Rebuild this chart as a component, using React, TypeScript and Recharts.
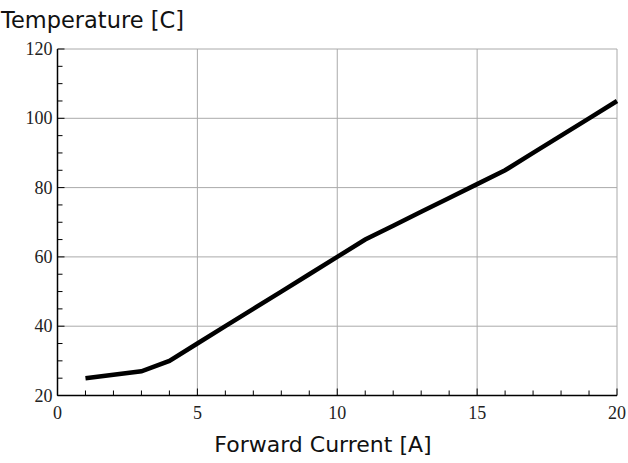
import React from 'react';
import { LineChart, Line, XAxis, YAxis, ReferenceLine } from 'recharts';

// forward current [A] vs temperature [C]
const current = [1, 2, 3, 4, 5, 6, 7, 8, 9, 10, 11, 12, 13, 14, 15, 16, 17, 18, 19, 20];
const temperature = [25, 26, 27, 30, 35, 40, 45, 50, 55, 60, 65, 69, 73, 77, 81, 85, 90, 95, 100, 105];

const xTicks = [0, 1, 2, 3, 4, 5, 6, 7, 8, 9, 10, 11, 12, 13, 14, 15, 16, 17, 18, 19, 20];
const xLabels = [0, 5, 10, 15, 20];
const yTicks = [20, 25, 30, 35, 40, 45, 50, 55, 60, 65, 70, 75, 80, 85, 90, 95, 100, 105, 110, 115, 120];
const yLabels = [20, 40, 60, 80, 100, 120];
const xGrid = [5, 10, 15, 20];
const yGrid = [40, 60, 80, 100, 120];

const data = current.map((c, i) => ({ current: c, temperature: temperature[i] }));

const serif = '"Liberation Serif", "DejaVu Serif", serif';
const sans = '"DejaVu Sans", "Open Sans", sans-serif';

const XTick = (props: any) => {
  const { x, y, payload } = props;
  const major = xLabels.includes(payload.value);
  return (
    <g>
      <line x1={x} x2={x} y1={y} y2={y - (major ? 7 : 5)} stroke="#000" strokeWidth={1} />
      {major && (
        <text x={x} y={y + 23} textAnchor="middle" fontFamily={serif} fontSize={18} fill="#222">
          {payload.value}
        </text>
      )}
    </g>
  );
};

const YTick = (props: any) => {
  const { x, y, payload } = props;
  const major = yLabels.includes(payload.value);
  return (
    <g>
      <line x1={x} x2={x + (major ? 7 : 5)} y1={y} y2={y} stroke="#000" strokeWidth={1} />
      {major && (
        <text x={x - 5} y={y + 6} textAnchor="end" fontFamily={serif} fontSize={18} fill="#222">
          {payload.value}
        </text>
      )}
    </g>
  );
};

export default function App() {
  return (
    <div style={{ position: 'absolute', left: 0, top: 0, width: 628, height: 463, background: '#fff' }}>
      <LineChart width={628} height={463} data={data} margin={{ top: 49, right: 11, bottom: 0, left: 0 }}>
        {xGrid.map(v => (
          <ReferenceLine key={'x' + v} x={v} stroke="#aaa" strokeWidth={1} ifOverflow="visible" />
        ))}
        {yGrid.map(v => (
          <ReferenceLine key={'y' + v} y={v} stroke="#aaa" strokeWidth={1} ifOverflow="visible" />
        ))}
        <XAxis
          type="number"
          dataKey="current"
          domain={[0, 20]}
          ticks={xTicks}
          interval={0}
          tickSize={0}
          tickMargin={0}
          tickLine={false}
          axisLine={{ stroke: '#000', strokeWidth: 1.5 }}
          tick={XTick}
          height={67.5}
        />
        <YAxis
          type="number"
          domain={[20, 120]}
          ticks={yTicks}
          interval={0}
          tickSize={0}
          tickMargin={0}
          tickLine={false}
          axisLine={{ stroke: '#000', strokeWidth: 1.5 }}
          tick={YTick}
          width={57.5}
        />
        <Line
          type="linear"
          dataKey="temperature"
          stroke="#000"
          strokeWidth={4.5}
          dot={false}
          activeDot={false}
          isAnimationActive={false}
        />
      </LineChart>
      <svg width={628} height={463} style={{ position: 'absolute', left: 0, top: 0, pointerEvents: 'none' }}>
        <text x={1} y={28} fontFamily={sans} fontSize={22.5} fill="#111">
          Temperature [C]
        </text>
        <text x={323} y={452} textAnchor="middle" fontFamily={sans} fontSize={22} fill="#111">
          Forward Current [A]
        </text>
      </svg>
    </div>
  );
}
